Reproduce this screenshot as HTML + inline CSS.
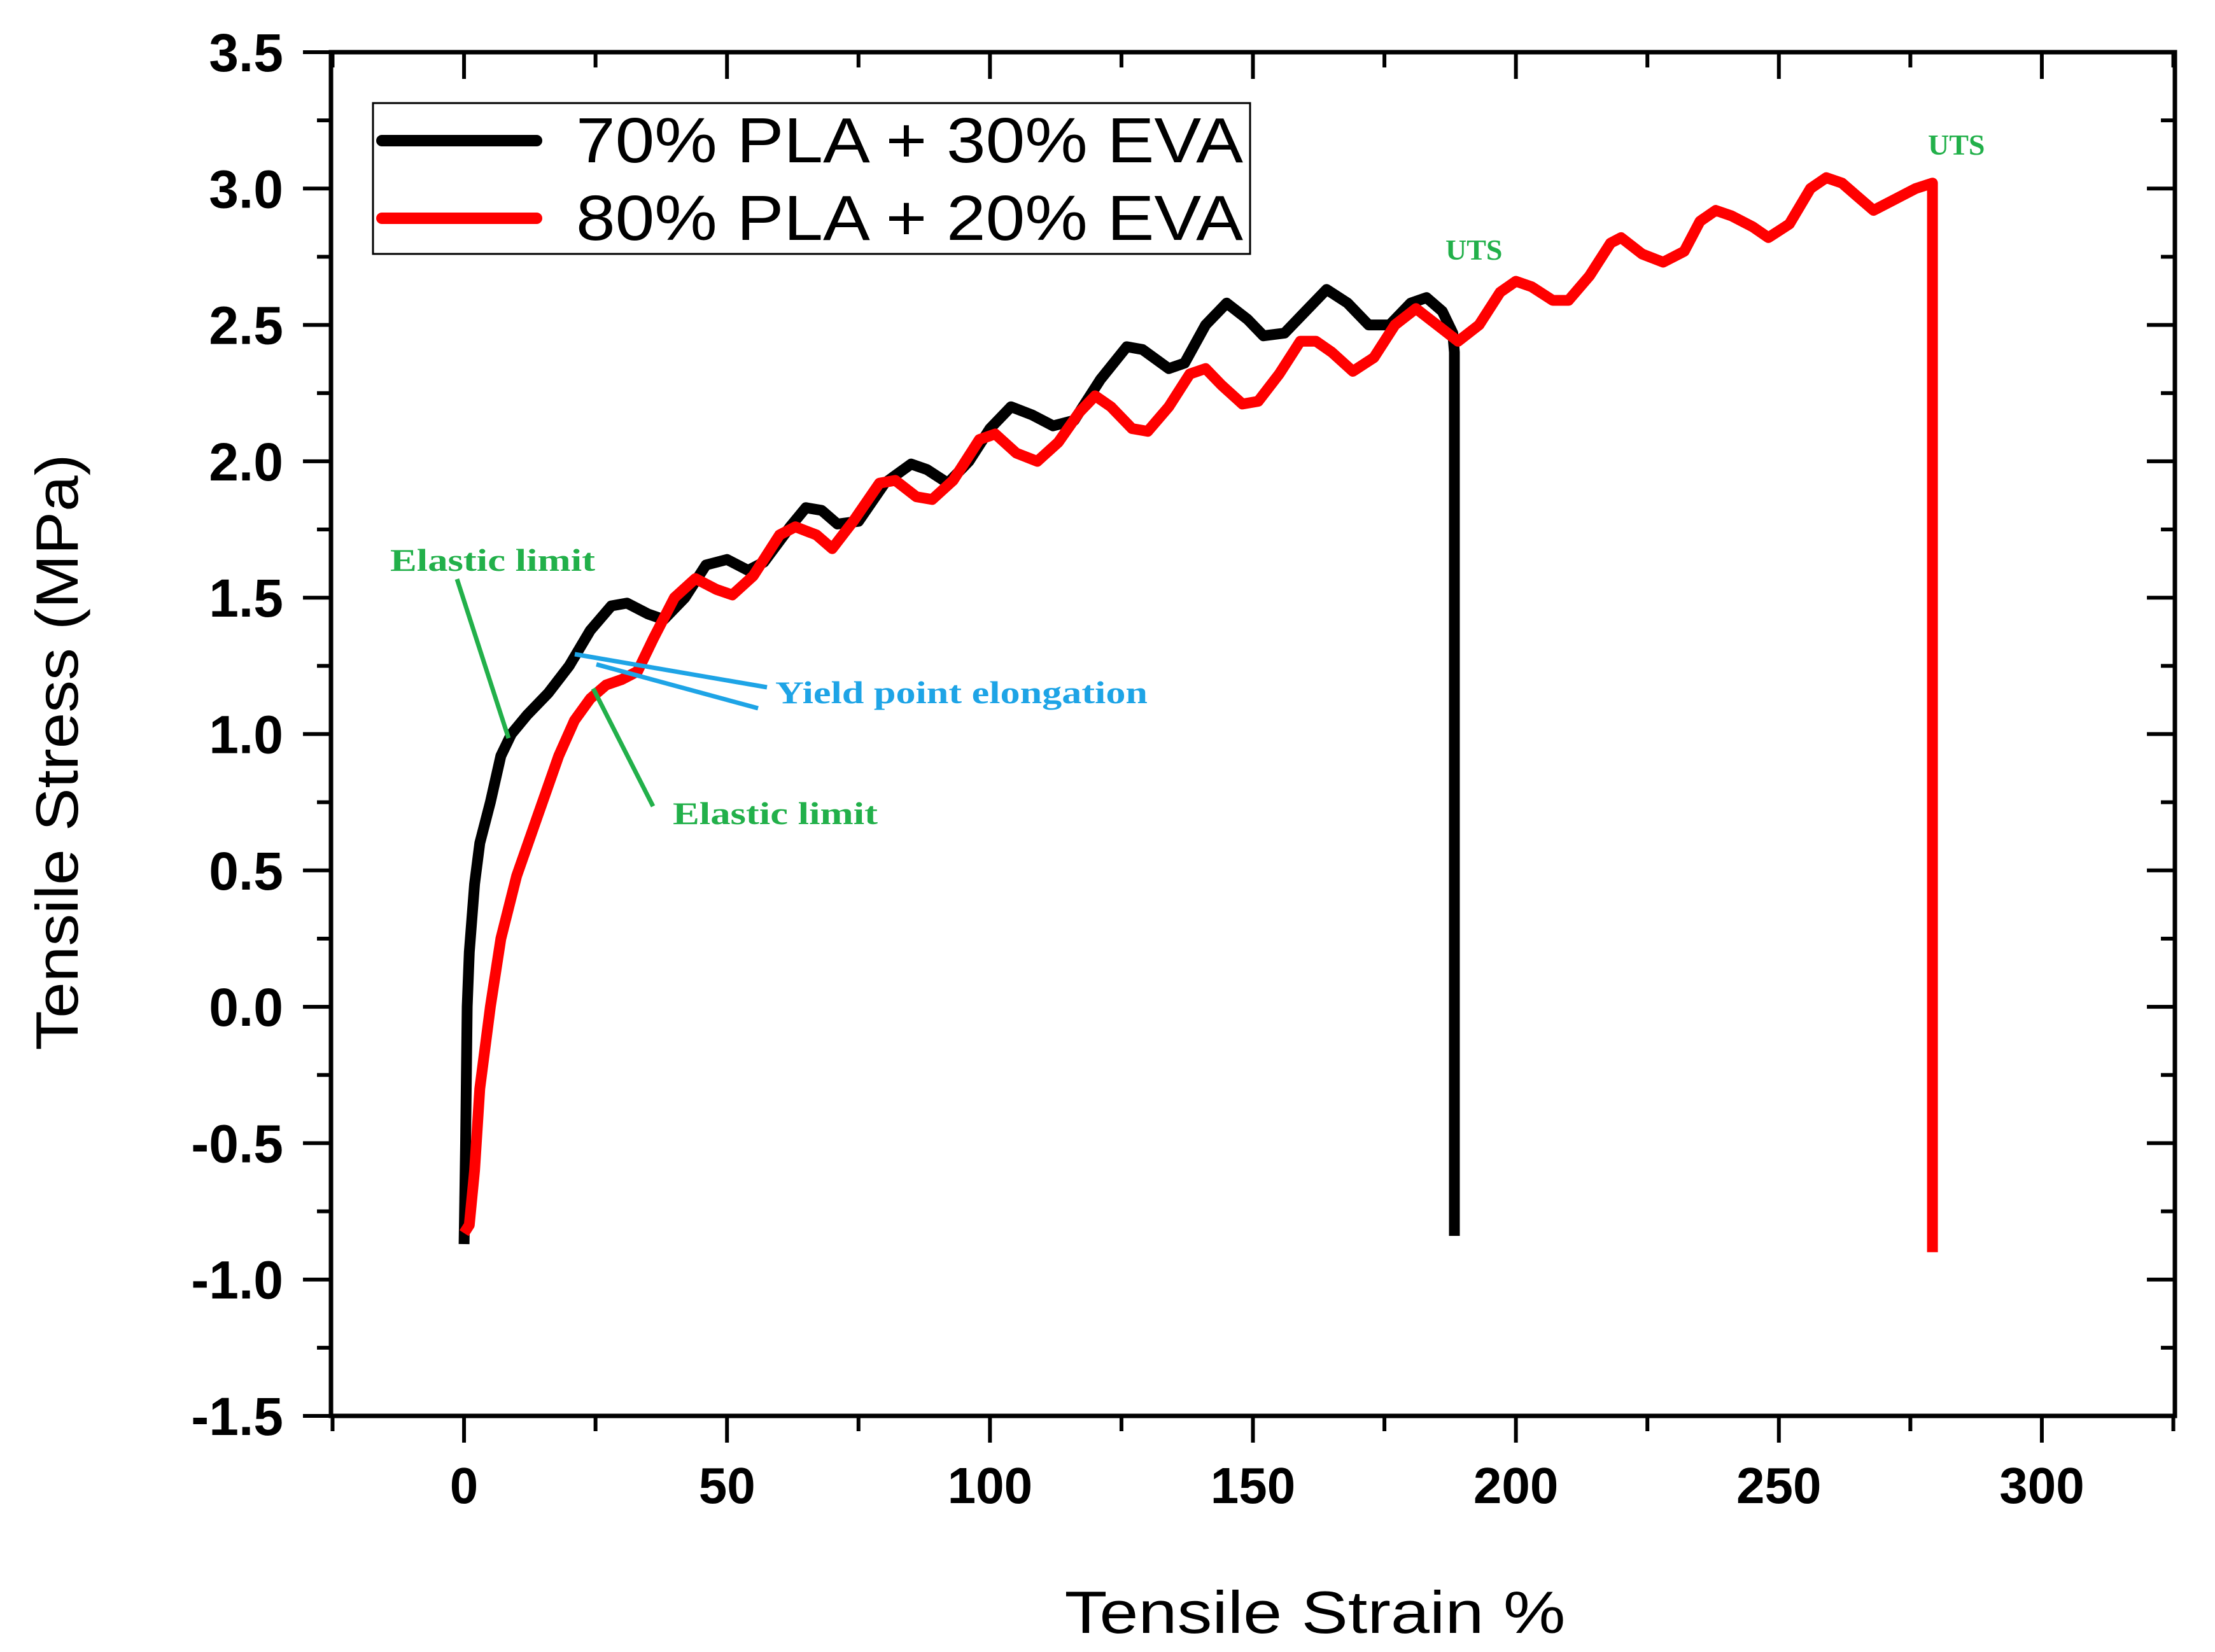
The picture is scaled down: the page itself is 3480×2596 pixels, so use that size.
<!DOCTYPE html>
<html><head><meta charset="utf-8"><style>
html,body{margin:0;padding:0;background:#fff;}
svg{display:block;}
text{font-family:"Liberation Sans",Arial,sans-serif;}
text.serif{font-family:"Liberation Serif","DejaVu Serif",serif;font-weight:bold;}
</style></head><body>
<svg id="chart" width="3480" height="2596" viewBox="0 0 3480 2596" xmlns="http://www.w3.org/2000/svg">
<rect x="0" y="0" width="3480" height="2596" fill="#fff"/>
<g id="marks"></g>
<g id="axes"></g>
<g id="legend">
  <rect x="586" y="162" width="1378" height="237" fill="#fff" stroke="#000" stroke-width="3"/>
  <line x1="600" y1="221" x2="843" y2="221" stroke="#000" stroke-width="18" stroke-linecap="round"/>
  <text x="905" y="255" font-size="100" textLength="1048" lengthAdjust="spacingAndGlyphs">70% PLA + 30% EVA</text>
  <line x1="600" y1="343" x2="843" y2="343" stroke="#f00" stroke-width="18" stroke-linecap="round"/>
  <text x="905" y="377" font-size="100" textLength="1048" lengthAdjust="spacingAndGlyphs">80% PLA + 20% EVA</text>
</g>
<g id="annotations">
  <line x1="718" y1="910" x2="799" y2="1160" stroke="#22b04a" stroke-width="7"/>
  <line x1="932" y1="1082" x2="1026" y2="1267" stroke="#22b04a" stroke-width="7"/>
  <line x1="903" y1="1028" x2="1205" y2="1080" stroke="#1ea4e6" stroke-width="7"/>
  <line x1="937" y1="1044" x2="1191" y2="1113" stroke="#1ea4e6" stroke-width="7"/>
  <text class="serif" x="613" y="897" font-size="50" fill="#22b04a" textLength="322" lengthAdjust="spacingAndGlyphs">Elastic limit</text>
  <text class="serif" x="1057" y="1295" font-size="50" fill="#22b04a" textLength="322" lengthAdjust="spacingAndGlyphs">Elastic limit</text>
  <text class="serif" x="1218" y="1105" font-size="50" fill="#1ea4e6" textLength="585" lengthAdjust="spacingAndGlyphs">Yield point elongation</text>
  <text class="serif" x="2271" y="408" font-size="46" fill="#22b04a">UTS</text>
  <text class="serif" x="3029" y="243" font-size="46" fill="#22b04a">UTS</text>
</g>
<text x="2066" y="2566" font-size="94" text-anchor="middle" textLength="787" lengthAdjust="spacingAndGlyphs">Tensile Strain %</text>
<text transform="translate(122,1182) rotate(-90)" font-size="94" text-anchor="middle" textLength="937" lengthAdjust="spacingAndGlyphs">Tensile Stress  (MPa)</text>
</svg>
<script>
const xTicks = [0, 50, 100, 150, 200, 250, 300];
const yTicks = [-1.5, -1.0, -0.5, 0.0, 0.5, 1.0, 1.5, 2.0, 2.5, 3.0, 3.5];
const yTickLabels = ["-1.5","-1.0","-0.5","0.0","0.5","1.0","1.5","2.0","2.5","3.0","3.5"];
const strainBlack = [0,0.3,0.6,1,2,3,5,7,9,12,16,20,24,28,31,35,38,42,46,50,54,57,62,65,68,71,75,80,85,88,92,96,100,104,108,112,116,121,126,129,134,137,141,145,149,152,156,160,164,168,172,176,180,183,186,188,188.3,188.3];
const stressBlack = [-0.87,-0.5,0.0,0.2,0.45,0.6,0.75,0.92,1.0,1.07,1.15,1.25,1.38,1.47,1.48,1.44,1.42,1.5,1.62,1.64,1.6,1.63,1.76,1.83,1.82,1.77,1.78,1.92,1.99,1.97,1.92,2.0,2.12,2.2,2.17,2.13,2.15,2.3,2.42,2.41,2.34,2.36,2.5,2.58,2.52,2.46,2.47,2.55,2.63,2.58,2.5,2.5,2.58,2.6,2.55,2.47,2.4,-0.84];
const strainRed = [0,1,2,3,5,7,10,14,18,21,24,27,30,33,36,40,44,48,51,55,60,63,67,70,74,79,82,86,89,93,98,101,105,109,113,117,120,123,127,130,134,138,141,144,148,151,155,159,162,165,169,173,177,181,185,189,193,197,200,203,207,210,214,218,220,224,228,232,235,238,241,245,248,252,256,259,262,265,268,272,276,279.2,279.2];
const stressRed = [-0.83,-0.8,-0.6,-0.3,0.0,0.25,0.48,0.7,0.92,1.05,1.13,1.18,1.2,1.23,1.35,1.5,1.57,1.53,1.51,1.58,1.73,1.76,1.73,1.68,1.78,1.92,1.93,1.87,1.86,1.93,2.08,2.1,2.03,2.0,2.07,2.18,2.24,2.2,2.12,2.11,2.2,2.32,2.34,2.28,2.21,2.22,2.32,2.44,2.44,2.4,2.33,2.38,2.5,2.56,2.5,2.44,2.5,2.62,2.66,2.64,2.59,2.59,2.68,2.8,2.82,2.76,2.73,2.77,2.88,2.92,2.9,2.86,2.82,2.87,3.0,3.04,3.02,2.97,2.92,2.96,3.0,3.02,-0.9];

const L=520, R=3417, T=82, B=2225;
const X0=-25.3, X1=325.3, Y0=-1.5, Y1=3.5;
function sx(v){return L+(v-X0)/(X1-X0)*(R-L);}
function sy(v){return B-(v-Y0)/(Y1-Y0)*(B-T);}
const NS='http://www.w3.org/2000/svg';
function mk(tag, attrs, parent){const e=document.createElementNS(NS,tag);for(const k in attrs)e.setAttribute(k,attrs[k]);parent.appendChild(e);return e;}
const axes=document.getElementById('axes'), marks=document.getElementById('marks');

function series(xs, ys, color, name){
  const d=xs.map((x,i)=>(i?'L':'M')+sx(x).toFixed(1)+' '+sy(ys[i]).toFixed(1)).join(' ');
  const p=mk('path',{d:d,fill:'none',stroke:color,'stroke-width':17,'stroke-linejoin':'round'},marks);
  
  
}
series(strainBlack, stressBlack, '#000', 'series-70pla-30eva');
series(strainRed, stressRed, '#f00', 'series-80pla-20eva');

const frame=mk('rect',{x:L,y:T,width:R-L,height:B-T,fill:'none',stroke:'#000','stroke-width':7},axes);



for(let v=-25; v<=325; v+=25){
  const major = v%50===0;
  const x=sx(v);
  const t=mk('line',{x1:x,y1:B,x2:x,y2:B+(major?42:24),stroke:'#000','stroke-width':6},axes);
  
  
  const t2=mk('line',{x1:x,y1:T,x2:x,y2:T+(major?42:24),stroke:'#000','stroke-width':6},axes);
  
  
}
xTicks.forEach(v=>{
  const tx=mk('text',{x:sx(v),y:2362,'font-size':80,'font-weight':'bold','text-anchor':'middle'},axes);
  tx.textContent=String(v);
  
  
});
for(let i=0;i<=20;i++){
  const v=Y0+i*0.25;
  const major=i%2===0;
  const y=sy(v);
  const t=mk('line',{x1:L-(major?44:22),y1:y,x2:L,y2:y,stroke:'#000','stroke-width':6},axes);
  
  
  const t2=mk('line',{x1:R-(major?44:22),y1:y,x2:R,y2:y,stroke:'#000','stroke-width':6},axes);
  
  
}
yTicks.forEach((v,i)=>{
  const tx=mk('text',{x:445,y:sy(v)+30,'font-size':84,'font-weight':'bold','text-anchor':'end'},axes);
  tx.textContent=yTickLabels[i];
  
  
});
</script>
</body></html>
